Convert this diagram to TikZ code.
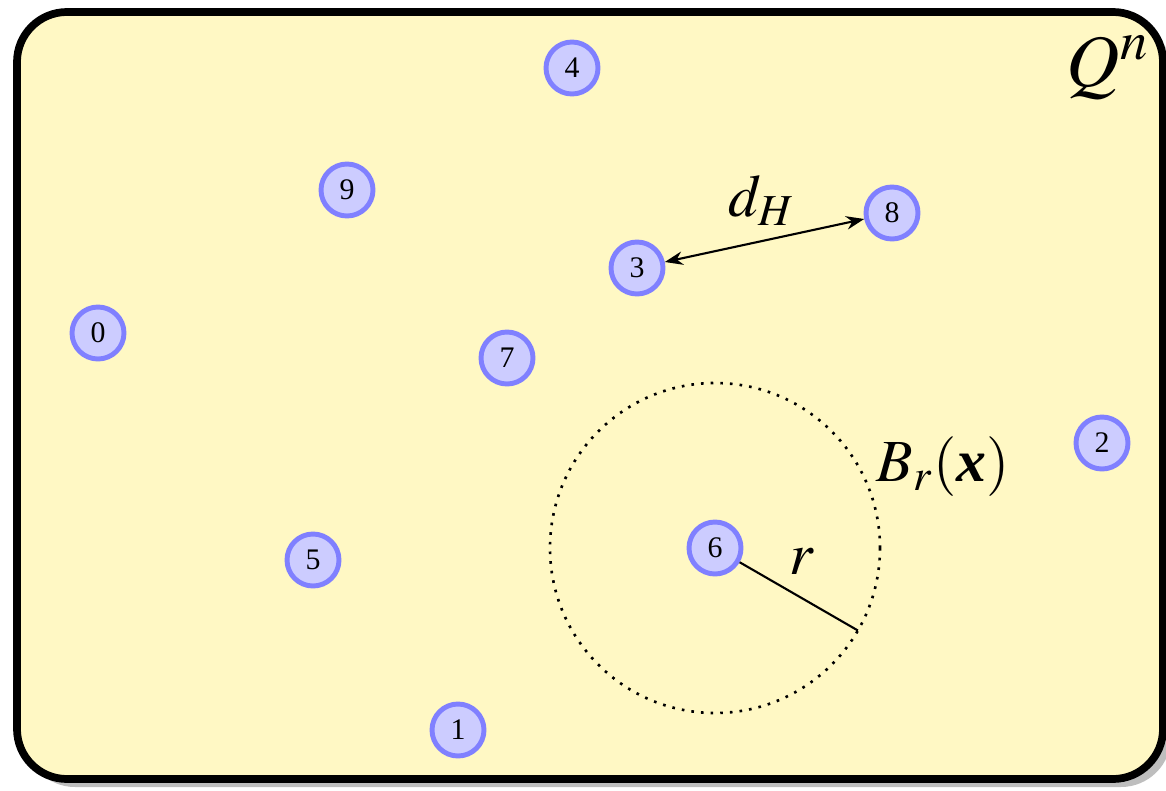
\documentclass[tikz,border=0pt]{standalone}
\usepackage{amsmath}
\usepackage{mathptmx}
\usepackage{fontspec}
\setmainfont{Liberation Serif}
\usetikzlibrary{arrows.meta,calc}

\definecolor{spacefill}{RGB}{255,248,196}
\definecolor{shadowgray}{RGB}{190,190,190}

\begin{document}
\begin{tikzpicture}[
    vertex/.style={circle, draw=blue!50, fill=blue!20, line width=1.4pt, minimum size=0.52cm, inner sep=0pt, font=\fontsize{8.5}{10}\selectfont},
    mathtext/.style={font=\fontsize{17}{20}\selectfont},
    arrow/.style={{Stealth[length=1.8mm]}-{Stealth[length=1.8mm]}, line width=0.6pt}
]
\useasboundingbox (0,0) rectangle (11.66,7.90);

% The space with its shadow
\fill[shadowgray, rounded corners=0.5cm] (0.25,0.03) rectangle (11.71,7.70);
\draw[line width=2.2pt, fill=spacefill, rounded corners=0.5cm] (0.17,0.11) rectangle (11.63,7.78);
\node[mathtext, font=\fontsize{21}{24}\selectfont] (space) at (11.08,7.22) {$Q^n$};

% Code words
\node[vertex] (n0) at (0.98,4.57) {0};
\node[vertex] (n1) at (4.58,0.60) {1};
\node[vertex] (n2) at (11.02,3.47) {2};
\node[vertex] (n3) at (6.37,5.22) {3};
\node[vertex] (n4) at (5.72,7.22) {4};
\node[vertex] (n5) at (3.13,2.30) {5};
\node[vertex] (n6) at (7.15,2.42) {6};
\node[vertex] (n7) at (5.07,4.32) {7};
\node[vertex] (n8) at (8.92,5.77) {8};
\node[vertex] (n9) at (3.47,6.00) {9};

% Hamming distance
\draw[arrow] (n3) -- (n8);
\node[mathtext] (dist) at (7.62,5.90) {$d_H$};

% Ball of radius r
\draw[dotted, line width=0.75pt] (n6) circle (1.65);
\coordinate (rim) at ($(n6)+(-30:1.65)$);
\draw[line width=0.6pt] (n6.-30) -- (rim);
\node[mathtext] (rad) at (8.02,2.28) {$r$};
\node[mathtext] (ball) at (9.43,3.23) {$B_r(\text{\bfseries\itshape x})$};
\end{tikzpicture}
\end{document}
